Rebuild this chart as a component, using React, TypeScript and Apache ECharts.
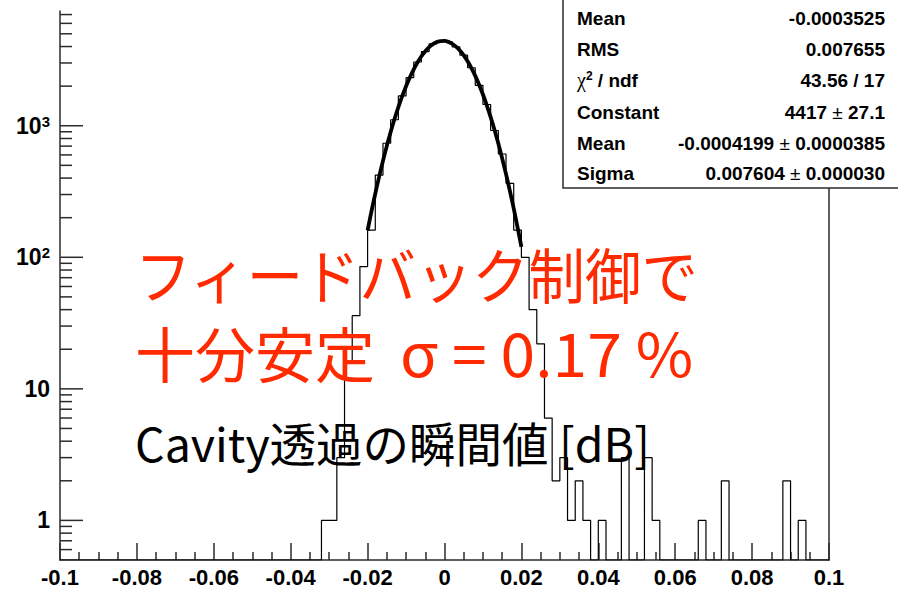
import React, { useEffect, useRef } from 'react';
import * as echarts from 'echarts';

// ---- data ----
const xMin = -0.1;
const xMax = 0.1;
const binWidth = 0.002;
const yMin = 0.5;
const yMax = 7450;

// histogram bin contents, 100 bins from -0.1 to 0.1
const histCounts = [
  0, 0, 0, 0, 0, 0, 0, 0, 0, 0,
  0, 0, 0, 0, 0, 0, 0, 0, 0, 0,
  0, 0, 0, 0, 0, 0, 0, 0, 0, 0,
  0, 0, 0, 0, 1, 1, 3, 16, 36, 85,
  161, 422, 736, 1110, 1686, 2320, 3050, 3660, 4190, 4390,
  4350, 3970, 3440, 2760, 2030, 1450, 920, 610, 365, 161,
  100, 40, 22, 6, 2, 3, 1, 2, 1, 0,
  1, 0, 0, 3, 0, 0, 3, 1, 0, 0,
  0, 0, 0, 1, 0, 0, 2, 0, 0, 0,
  0, 0, 0, 0, 2, 0, 1, 0, 0, 0,
];

// fitted gaussian, sampled over the fit range
const fitX = [
  -0.02, -0.019, -0.018, -0.017, -0.016, -0.015, -0.014, -0.013, -0.012, -0.011,
  -0.01, -0.009, -0.008, -0.007, -0.006, -0.005, -0.004, -0.003, -0.002, -0.001,
  0.0, 0.001, 0.002, 0.003, 0.004, 0.005, 0.006, 0.007, 0.008, 0.009,
  0.01, 0.011, 0.012, 0.013, 0.014, 0.015, 0.016, 0.017, 0.018, 0.019, 0.02,
];
const fitY = [
  160, 223, 305, 410, 541, 703, 897, 1124, 1385, 1678,
  1997, 2337, 2687, 3038, 3374, 3684, 3954, 4170, 4323, 4404,
  4410, 4341, 4199, 3992, 3730, 3426, 3093, 2744, 2393, 2051,
  1727, 1430, 1164, 931, 732, 565, 429, 320, 235, 169, 120,
];

const yTickValues = [
  0.6, 0.7, 0.8, 0.9,
  1, 2, 3, 4, 5, 6, 7, 8, 9,
  10, 20, 30, 40, 50, 60, 70, 80, 90,
  100, 200, 300, 400, 500, 600, 700, 800, 900,
  1000, 2000, 3000, 4000, 5000, 6000, 7000,
];

const statsLabels = ['Mean', 'RMS', '{chi|χ}{sup|2}{b| / ndf}', 'Constant', 'Mean', 'Sigma'];
const statsValues = [
  '-0.0003525',
  '0.007655',
  '43.56 / 17',
  '4417{pm| ± }27.1',
  '-0.0004199{pm| ± }0.0000385',
  '0.007604{pm| ± }0.000030',
];

const redLine1 = 'フィードバック制御で';
const redLine2a = '十分安定';
const redLine2b = 'σ = 0.17 %';
const blackLine = 'Cavity透過の瞬間値 [dB]';

// ---- styles ----
const AXIS_COLOR = '#2b2b2b';
const LABEL_FONT = '"Liberation Sans", Arial, Helvetica, sans-serif';
const JP_FONT = '"Noto Sans CJK JP", "Noto Sans", sans-serif';
const RED = '#ff2a00';

export default function App() {
  const ref = useRef<HTMLDivElement>(null);

  useEffect(() => {
    if (!ref.current) return;
    const chart = echarts.init(ref.current, null, { renderer: 'svg' });

    const toDisplay = (c: number) => (c > 0 ? c : yMin);
    const histData: number[][] = [];
    for (let k = 0; k < histCounts.length; k++) {
      histData.push([xMin + k * binWidth, toDisplay(histCounts[k])]);
    }
    histData.push([xMax, toDisplay(histCounts[histCounts.length - 1])]);

    const fitData = fitX.map((x, i) => [x, fitY[i]]);

    const statsRowY = [18, 49, 80, 112, 143, 173];

    const statsRich = {
      chi: { fontFamily: '"Liberation Serif", serif', fontWeight: 'normal', fontSize: 20, fill: '#000' },
      sup: { fontFamily: LABEL_FONT, fontWeight: 'bold', fontSize: 12, verticalAlign: 'top', lineHeight: 6 },
      b: { fontFamily: LABEL_FONT, fontWeight: 'bold', fontSize: 19 },
      pm: { fontFamily: LABEL_FONT, fontWeight: 'normal', fontSize: 19 },
    };

    const graphics: any[] = [
      {
        type: 'rect',
        z: 100,
        shape: { x: 563, y: -5, width: 345, height: 193 },
        style: { fill: '#fff', stroke: AXIS_COLOR, lineWidth: 1.5 },
      },
    ];
    statsLabels.forEach((t, i) => {
      graphics.push({
        type: 'text',
        z: 101,
        x: 577,
        y: statsRowY[i],
        style: {
          text: t,
          fontFamily: LABEL_FONT,
          fontWeight: 'bold',
          fontSize: 19,
          lineHeight: 20,
          fill: '#000',
          align: 'left',
          verticalAlign: 'middle',
          rich: statsRich,
        },
      });
    });
    statsValues.forEach((t, i) => {
      graphics.push({
        type: 'text',
        z: 101,
        x: 885,
        y: statsRowY[i],
        style: {
          text: t,
          fontFamily: LABEL_FONT,
          fontWeight: 'bold',
          fontSize: 19,
          lineHeight: 20,
          fill: '#000',
          align: 'right',
          verticalAlign: 'middle',
          rich: statsRich,
        },
      });
    });
    graphics.push({
      type: 'text',
      z: 110,
      x: 135,
      y: 273,
      scaleX: 0.94,
      style: {
        text: redLine1,
        fontFamily: JP_FONT,
        fontSize: 60,
        fill: RED,
        align: 'left',
        verticalAlign: 'middle',
      },
    });
    graphics.push({
      type: 'text',
      z: 110,
      x: 135,
      y: 351,
      style: {
        text: redLine2a,
        fontFamily: JP_FONT,
        fontSize: 60,
        fill: RED,
        align: 'left',
        verticalAlign: 'middle',
      },
    });
    graphics.push({
      type: 'text',
      z: 110,
      x: 400,
      y: 351,
      scaleX: 1.04,
      style: {
        text: redLine2b,
        fontFamily: JP_FONT,
        fontSize: 60,
        fill: RED,
        align: 'left',
        verticalAlign: 'middle',
      },
    });
    graphics.push({
      type: 'text',
      z: 110,
      x: 135,
      y: 441,
      style: {
        text: blackLine,
        fontFamily: JP_FONT,
        fontSize: 46.5,
        fill: '#000',
        align: 'left',
        verticalAlign: 'middle',
      },
    });

    const option: any = {
      animation: false,
      backgroundColor: '#ffffff',
      grid: { left: 60, right: 69, top: 11, bottom: 29, containLabel: false },
      xAxis: {
        type: 'value',
        min: xMin,
        max: xMax,
        interval: 0.02,
        axisLine: { show: true, onZero: false, lineStyle: { color: AXIS_COLOR, width: 1.5 } },
        axisTick: { show: true, inside: true, length: 17, lineStyle: { color: AXIS_COLOR, width: 1.5 } },
        minorTick: { show: true, splitNumber: 4, length: 8, lineStyle: { color: AXIS_COLOR, width: 1.5 } },
        splitLine: { show: false },
        minorSplitLine: { show: false },
        axisLabel: {
          margin: 6,
          color: '#000',
          fontFamily: LABEL_FONT,
          fontWeight: 'bold',
          fontSize: 22,
          formatter: (v: number) => String(Math.round(v * 1000) / 1000),
        },
      },
      yAxis: [
        {
          type: 'log',
          logBase: 10,
          min: yMin,
          max: yMax,
          position: 'left',
          axisLine: { show: true, onZero: false, lineStyle: { color: AXIS_COLOR, width: 1.5 } },
          axisTick: { show: false },
          splitLine: { show: false },
          axisLabel: {
            margin: 10,
            color: '#000',
            fontFamily: LABEL_FONT,
            fontWeight: 'bold',
            fontSize: 23,
            lineHeight: 24,
            formatter: (v: number) => {
              const lg = Math.log10(v);
              const e = Math.round(lg);
              if (Math.abs(lg - e) > 1e-6) return '';
              if (e === 0) return '1';
              if (e === 1) return '10';
              return '10{sup|' + e + '}';
            },
            rich: {
              sup: {
                fontFamily: LABEL_FONT,
                fontWeight: 'bold',
                fontSize: 15,
                color: '#000',
                verticalAlign: 'top',
                lineHeight: 8,
              },
            },
          },
        },
        {
          type: 'log',
          logBase: 10,
          min: yMin,
          max: yMax,
          position: 'right',
          axisLine: { show: true, onZero: false, lineStyle: { color: AXIS_COLOR, width: 1.5 } },
          axisTick: { show: false },
          axisLabel: { show: false },
          splitLine: { show: false },
        },
      ],
      series: [
        {
          type: 'line',
          name: 'hist',
          step: 'end',
          data: histData,
          showSymbol: false,
          symbol: 'none',
          lineStyle: { color: '#000', width: 1.2 },
          z: 2,
          silent: true,
        },
        {
          type: 'line',
          name: 'fit',
          data: fitData,
          smooth: 0.3,
          showSymbol: false,
          symbol: 'none',
          lineStyle: { color: '#000', width: 3.8 },
          z: 3,
          silent: true,
        },
        {
          type: 'custom',
          name: 'yticks',
          data: yTickValues.map((v) => [xMin, v]),
          encode: { x: 0, y: 1 },
          clip: false,
          silent: true,
          z: 4,
          renderItem: (params: any, api: any) => {
            const v = api.value(1);
            const p = api.coord([xMin, v]);
            const lg = Math.log10(v);
            const major = Math.abs(lg - Math.round(lg)) < 1e-9;
            const len = major ? 23 : 12;
            return {
              type: 'line',
              shape: { x1: p[0], y1: p[1], x2: p[0] + len, y2: p[1] },
              style: { stroke: AXIS_COLOR, lineWidth: 1.5 },
            };
          },
        },
      ],
      graphic: graphics,
    };

    chart.setOption(option);
    return () => chart.dispose();
  }, []);

  return (
    <div
      ref={ref}
      style={{ position: 'fixed', left: 0, top: 0, width: 898, height: 589, background: '#fff' }}
    />
  );
}
